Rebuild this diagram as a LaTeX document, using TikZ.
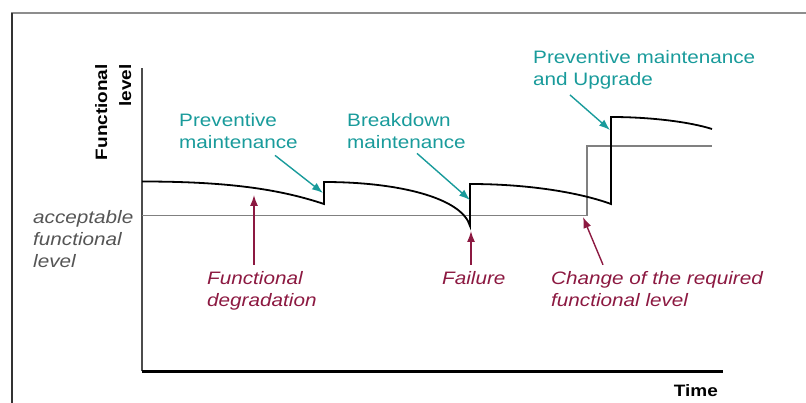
\documentclass[tikz,border=0pt]{standalone}
\usepackage{fontspec}
\setmainfont[FakeStretch=1.15]{Liberation Sans}
\usetikzlibrary{arrows.meta}
\definecolor{upkeep}{RGB}{25,155,155}
\definecolor{fault}{RGB}{140,25,65}
\definecolor{reqgray}{RGB}{128,128,128}
\definecolor{accgray}{RGB}{85,85,85}
\tikzset{
  txt/.style={inner sep=0pt, align=left, font=\fontsize{18}{22}\selectfont},
  keeptxt/.style={txt, text=upkeep},
  faulttxt/.style={txt, text=fault, font=\fontsize{18}{22}\selectfont\itshape},
  acctxt/.style={txt, text=accgray, font=\fontsize{18}{22}\selectfont\itshape},
  axislabel/.style={inner sep=0pt, font=\fontsize{16.5}{24}\selectfont\bfseries},
  keeparrow/.style={upkeep, line width=1.4pt, -{Latex[length=11pt,width=8pt]}},
  faultarrow/.style={fault, line width=1.4pt, -{Latex[length=11pt,width=8pt]}},
  level/.style={black, line width=1.8pt},
}
\begin{document}
\begin{tikzpicture}[x=1pt,y=1pt]
	\useasboundingbox (0,0) rectangle (806,-403);
	% frame
	\draw[reqgray!90, line width=2.5pt] (11,-13) -- (806,-13);
	\draw[black!80, line width=1.2pt] (12,-13) -- (12,-403);
	%
	\coordinate (o) at (142,-371);
	\coordinate (ytop) at (142,-68);
	\coordinate (xend) at (723,-371);
	\draw[black!70, line width=1.5pt] (o) -- (ytop);
	\draw[line width=3pt] (o) -- (xend);
	%
	\coordinate (a0) at (142,-181.5);
	\coordinate (a1) at (324,-204);
	\coordinate (b0) at (324,-182);
	\coordinate (b1) at (470,-226);
	\coordinate (c0) at (470,-184);
	\coordinate (c1) at (611,-204);
	\coordinate (d0) at (611,-117);
	\coordinate (d1) at (712,-129);
	%
	\draw[reqgray, line width=1.3pt] (142,-215.5) -- (587,-215.5) -- (587,-146) -- (712,-146);
	\draw[level] (a0) .. controls +(85,0) and +(-45,15) .. (a1) -- (b0)
		.. controls +(75,0) and +(-8,28) .. (b1) -- (c0)
		.. controls +(60,0) and +(-30,11) .. (c1) -- (d0)
		.. controls +(40,0) and +(-22,7) .. (d1);
	%
	% multi-line nodes: base is the last line
	\node[axislabel, rotate=90, anchor=base east, align=right] (ylab) at (131,-64) {Functional\\level};
	\node[axislabel, anchor=base east] (time) at (718,-396) {Time};
	\node[acctxt, anchor=base west] (acc) at (33,-268) {acceptable\\functional\\level};
	%
	\node[keeptxt, anchor=base west] (pm) at (179,-149) {Preventive\\maintenance};
	\node[keeptxt, anchor=base west] (bm) at (347,-149) {Breakdown\\maintenance};
	\node[keeptxt, anchor=base west] (pu) at (533,-86) {Preventive maintenance\\and Upgrade};
	\node[faulttxt, anchor=base west] (fd) at (207,-307) {Functional\\degradation};
	\node[faulttxt, anchor=base west] (fail) at (442,-285) {Failure};
	\node[faulttxt, anchor=base west] (chg) at (551,-307) {Change of the required\\functional level};
	%
	\coordinate (t1) at (323,-193);
	\coordinate (t2) at (470,-200);
	\coordinate (t3) at (610,-130);
	\coordinate (f1) at (254,-195);
	\coordinate (f2) at (471,-231);
	\coordinate (f3) at (583,-217);
	\foreach \n/\dx/\dy/\t in {pm/96/-6/t1, bm/70/-4/t2, pu/37/-5/t3}
		\draw[keeparrow] (\n.south west) ++(\dx,\dy) -- (\t);
	\foreach \n/\dx/\t in {fd/47/f1, fail/29/f2, chg/52/f3}
		\draw[faultarrow] (\n.north west) ++(\dx,7) -- (\t);
\end{tikzpicture}
\end{document}
